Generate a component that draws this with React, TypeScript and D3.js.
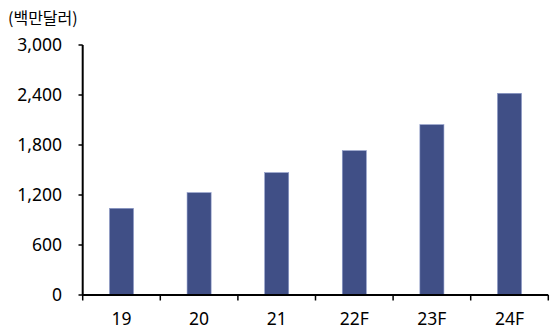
import React from "react";
import * as d3 from "d3";

const categories = ["19", "20", "21", "22F", "23F", "24F"];
const values = [1040, 1228, 1468, 1732, 2044, 2420];
const yTicks = [0, 600, 1200, 1800, 2400, 3000];
const unitLabel = "(백만달러)";

const W = 559;
const H = 329;
const FONT = "'Noto Sans', 'Noto Sans CJK KR', sans-serif";
const TITLE_FONT = "'Noto Sans CJK KR', 'Noto Sans', sans-serif";

export default function App() {
  const x = d3
    .scaleBand<string>()
    .domain(categories)
    .range([82.7, 548.3])
    .paddingInner(0.69)
    .paddingOuter(0.345);
  const y = d3.scaleLinear().domain([0, 3000]).range([295, 45]);
  const step = x.step();
  const x0 = x.range()[0];
  const bounds = d3.range(categories.length + 1).map((i) => x0 + i * step);
  const fmt = d3.format(",");

  return (
    <svg
      width={W}
      height={H}
      style={{ position: "absolute", left: 0, top: 0, background: "#fff" }}
      fontFamily={FONT}
    >
      <text x={8} y={24} fontSize={16} fill="#000" fontFamily={TITLE_FONT}>
        {unitLabel}
      </text>
      {categories.map((c, i) => (
        <rect
          key={c}
          x={x(c)}
          y={y(values[i])}
          width={x.bandwidth()}
          height={y(0) - y(values[i])}
          fill="#404f86"
          stroke="#8e9bc9"
          strokeWidth={0.6}
        />
      ))}
      {/* y axis */}
      <line x1={82.7} x2={82.7} y1={y(3000)} y2={y(0)} stroke="#000" strokeWidth={2} />
      {yTicks.map((t) => (
        <g key={t}>
          <line x1={78.5} x2={82.7} y1={y(t)} y2={y(t)} stroke="#000" strokeWidth={1.5} />
          <text
            x={62}
            y={y(t)}
            dy="0.36em"
            textAnchor="end"
            fontSize={17.5}
            fill="#000"
          >
            {fmt(t)}
          </text>
        </g>
      ))}
      {/* x axis */}
      <line x1={82} x2={548.3} y1={y(0)} y2={y(0)} stroke="#000" strokeWidth={2} />
      {bounds.map((b, i) => (
        <line key={i} x1={b} x2={b} y1={y(0)} y2={y(0) + 5.5} stroke="#000" strokeWidth={1.5} />
      ))}
      {categories.map((c) => (
        <text
          key={c}
          x={(x(c) as number) + x.bandwidth() / 2}
          y={325}
          textAnchor="middle"
          fontSize={17.5}
          fill="#000"
        >
          {c}
        </text>
      ))}
    </svg>
  );
}
